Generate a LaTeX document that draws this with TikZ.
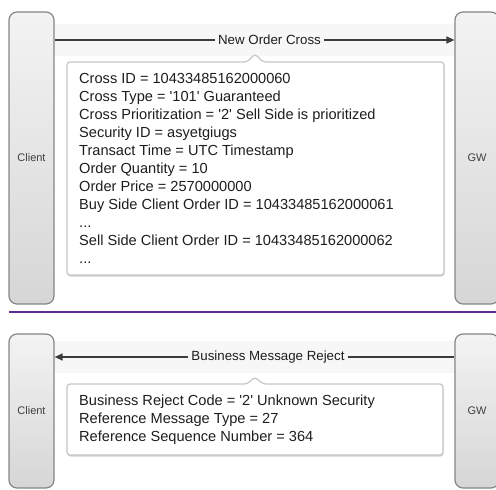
\documentclass[tikz,border=0pt]{standalone}
\usepackage{fontspec}
\setmainfont{Liberation Sans}
\usetikzlibrary{arrows.meta,calc}
\definecolor{barline}{HTML}{858585}
\definecolor{bartop}{HTML}{F3F3F3}
\definecolor{barbot}{HTML}{D6D6D6}
\definecolor{msgline}{HTML}{3C3C3C}
\definecolor{noteline}{HTML}{C6C6C6}
\definecolor{band}{HTML}{F7F7F7}
\definecolor{txt}{HTML}{1E1E1E}
\definecolor{sep}{HTML}{5C2D91}
\newcommand{\sq}{\textquotesingle}
\tikzset{
  bar/.style={draw=barline, line width=1.2pt, rounded corners=8pt,
    top color=bartop, bottom color=barbot, minimum width=45pt,
    font=\fontsize{11}{13}\selectfont, text=txt!85!white, inner sep=0pt},
  msg/.style={draw=msgline, line width=1.3pt},
  msgarrow/.style={msg, -{Triangle[length=8pt,width=7pt]}},
  msglabel/.style={font=\fontsize{13.3}{16}\selectfont, text=txt, inner xsep=3pt, inner ysep=0pt},
  notebox/.style={draw=noteline, fill=white, line width=1.2pt, rounded corners=3pt},
  noteshadow/.style={fill=black!18, rounded corners=3pt},
  notetext/.style={font=\fontsize{14.6}{18}\selectfont, text=txt, align=left, inner sep=0pt, anchor=north west},
}
\begin{document}
\begin{tikzpicture}[x=1pt,y=-1pt]
\useasboundingbox (0,0) rectangle (496,490);
\clip (0,0) rectangle (496,490);
% ---------- top section ----------
\fill[band] (54,24) rectangle (455,56);
\node[bar, minimum height=292pt] (c1) at (31.5,158) {Client};
\node[bar, minimum width=44pt, minimum height=292pt] (g1) at (477,158) {GW};
\node[msglabel] (l1) at (269.5,40) {New Order Cross};
\draw[msg] (c1.east |- l1) -- (l1.west);
\draw[msgarrow] (l1.east) -- (g1.west |- l1);
\fill[noteshadow] (67.5,63.5) -- (444.5,63.5) -- (444.5,276.5) -- (67.5,276.5) -- cycle;
\draw[notebox] (67,62) -- (247,62) -- (255,54) -- (263,62) -- (444,62) -- (444,275) -- (67,275) -- cycle;
\node[notetext] (t1) at (79,73.5) {Cross ID = 10433485162000060\\
Cross Type = \sq101\sq{} Guaranteed\\
Cross Prioritization = \sq2\sq{} Sell Side is prioritized\\
Security ID = asyetgiugs\\
Transact Time = UTC Timestamp\\
Order Quantity = 10\\
Order Price = 2570000000\\
Buy Side Client Order ID = 10433485162000061\\
...\\
Sell Side Client Order ID = 10433485162000062\\
...};
% ---------- separator ----------
\draw[sep, line width=2pt] (9,312) -- (496,312);
% ---------- bottom section ----------
\fill[band] (54,341) rectangle (455,373);
\node[bar, minimum height=154pt] (c2) at (31.5,411) {Client};
\node[bar, minimum width=44pt, minimum height=154pt] (g2) at (477,411) {GW};
\node[msglabel] (l2) at (268,357) {Business Message Reject};
\draw[msgarrow] (l2.west) -- (c2.east |- l2);
\draw[msg] (l2.east) -- (g2.west |- l2);
\fill[noteshadow] (67.5,385.5) -- (443.5,385.5) -- (443.5,456.5) -- (67.5,456.5) -- cycle;
\draw[notebox] (67,384) -- (247,384) -- (255,377) -- (263,384) -- (443,384) -- (443,455) -- (67,455) -- cycle;
\node[notetext] (t2) at (79,394.5) {Business Reject Code = \sq2\sq{} Unknown Security\\
Reference Message Type = 27\\
Reference Sequence Number = 364};
\end{tikzpicture}
\end{document}
